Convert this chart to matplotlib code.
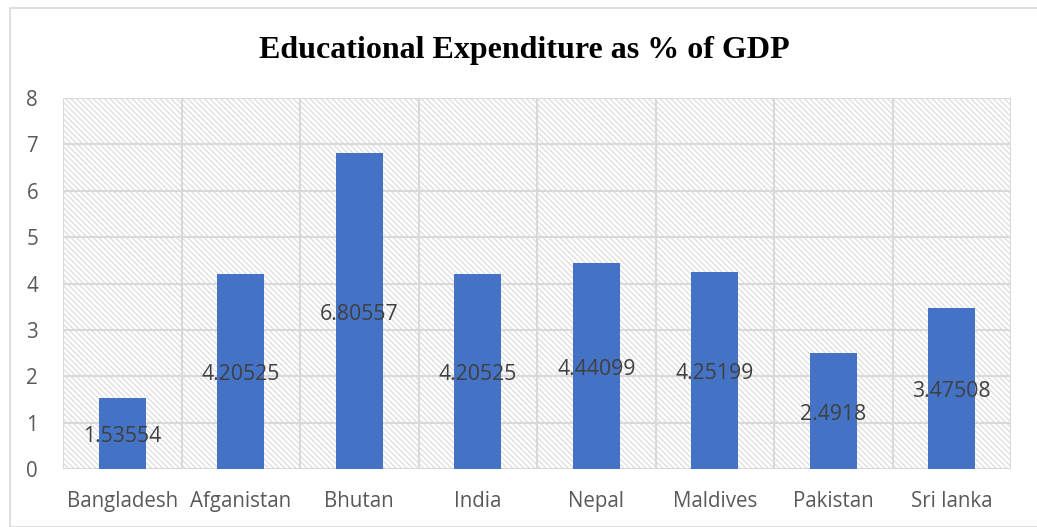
import matplotlib
matplotlib.use("Agg")
import matplotlib.pyplot as plt
import numpy as np

countries = ["Bangladesh", "Afganistan", "Bhutan", "India", "Nepal",
             "Maldives", "Pakistan", "Sri lanka"]
values = [1.53554, 4.20525, 6.80557, 4.20525, 4.44099, 4.25199, 2.4918, 3.47508]
labels = ["1.53554", "4.20525", "6.80557", "4.20525", "4.44099",
          "4.25199", "2.4918", "3.47508"]

plt.rcParams["hatch.linewidth"] = 1.0

fig = plt.figure(figsize=(10.37, 5.27), dpi=100)
fig.patches.append(plt.Rectangle((10/1037, 0), 1030/1037, 519/527,
                                 transform=fig.transFigure, fill=False,
                                 edgecolor="#d9d9d9", linewidth=1.2))

ax = fig.add_axes([63/1037, 58/527, 948/1037, 371/527])
x = np.arange(len(countries))

# hatched background
ax.bar(x, [8] * len(x), width=1.0, color="white", hatch="\\" * 6,
       edgecolor="#e0e0e0", linewidth=0, zorder=0)

ax.bar(x, values, width=0.4, color="#4472c4", zorder=3)

for xi, v, lab in zip(x, values, labels):
    ax.annotate(lab, (xi, v / 2), xytext=(0, -2.5), textcoords="offset points",
                ha="center", va="center", fontsize=15.3,
                color="#404040", family="Open Sans", zorder=4)

ax.set_xlim(-0.5, len(x) - 0.5)
ax.set_ylim(0, 8)
ax.set_yticks(range(0, 9))
ax.set_xticks(x)
ax.set_xticklabels(countries)

# grid lines
for yv in range(0, 9):
    ax.axhline(yv, color="#d9d9d9", linewidth=1.5, zorder=1)
for b in np.arange(-0.5, len(x), 1.0):
    ax.axvline(b, color="#d9d9d9", linewidth=1.5, zorder=1)

for s in ax.spines.values():
    s.set_visible(False)
ax.tick_params(length=0, colors="#595959", labelsize=14.8)
ax.tick_params(axis="x", pad=16)
ax.tick_params(axis="y", pad=18)
for t in ax.get_xticklabels() + ax.get_yticklabels():
    t.set_family("Open Sans")

fig.text(0.506, 0.905, "Educational Expenditure as % of GDP", ha="center",
         va="center", fontsize=23, fontweight="bold", family="Liberation Serif")

fig.savefig("out.png", dpi=100)
